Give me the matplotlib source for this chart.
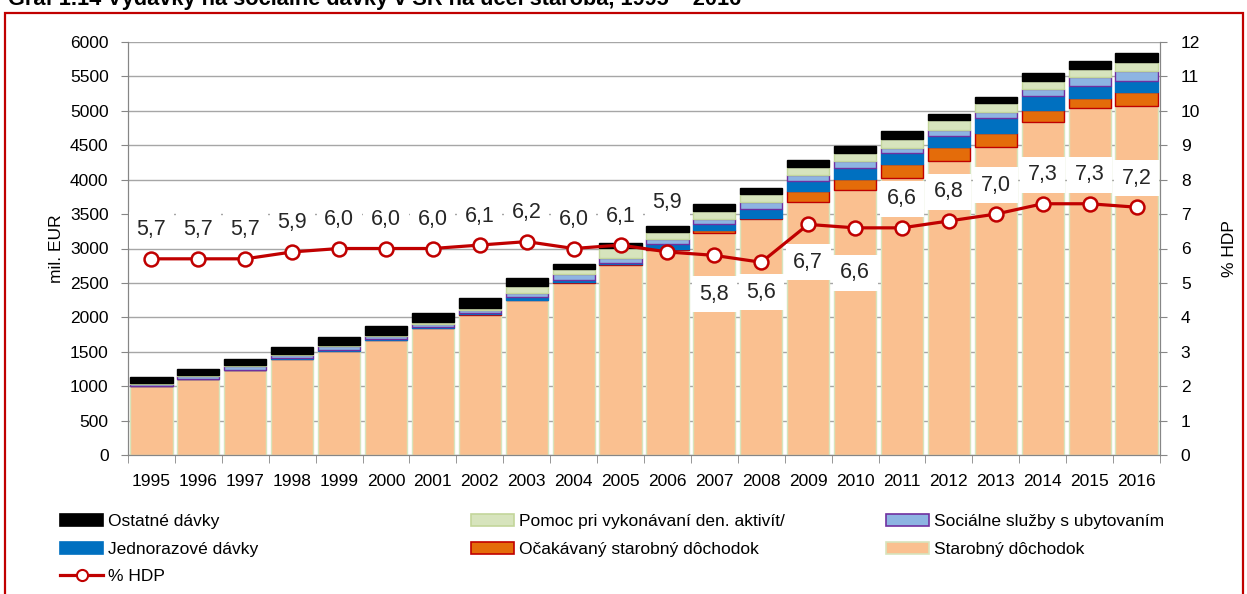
import matplotlib
matplotlib.use("Agg")
import matplotlib.pyplot as plt
from matplotlib.patches import Rectangle, Patch
from matplotlib.lines import Line2D
import numpy as np

plt.rcParams['font.family'] = ['Liberation Sans', 'DejaVu Sans']

years = [str(y) for y in range(1995, 2017)]
starobny = [1000, 1100, 1235, 1400, 1515, 1675, 1850, 2035, 2245, 2495, 2755, 2985,
            3230, 3430, 3680, 3850, 4020, 4275, 4480, 4835, 5037, 5075]
ocakavany = [0, 0, 0, 0, 0, 0, 0, 10, 10, 15, 15, 5,
             35, 20, 160, 155, 205, 205, 195, 177, 145, 203]
jednorazove = [5, 5, 5, 8, 8, 10, 10, 15, 40, 35, 25, 75,
               85, 130, 145, 160, 160, 155, 218, 204, 183, 156]
socialne = [25, 45, 50, 45, 65, 40, 50, 50, 58, 80, 65, 67,
            80, 95, 85, 110, 75, 87, 96, 102, 122, 145]
pomoc = [15, 10, 15, 15, 15, 25, 25, 25, 102, 75, 145, 110,
         110, 110, 110, 110, 135, 145, 122, 120, 121, 126]
ostatne = [85, 92, 90, 100, 115, 130, 135, 140, 116, 75, 70, 88,
           100, 90, 105, 110, 105, 87, 87, 116, 116, 131]
hdp = [5.7, 5.7, 5.7, 5.9, 6.0, 6.0, 6.0, 6.1, 6.2, 6.0, 6.1, 5.9,
       5.8, 5.6, 6.7, 6.6, 6.6, 6.8, 7.0, 7.3, 7.3, 7.2]

series_names = ["Starobný dôchodok", "Očakávaný starobný dôchodok", "Jednorazové dávky",
                "Sociálne služby s ubytovaním", "Pomoc pri vykonávaní den. aktivít/", "Ostatné dávky"]
series_vals = [starobny, ocakavany, jednorazove, socialne, pomoc, ostatne]
face_colors = ["#FAC090", "#E46C0A", "#0070C0", "#8DB4E2", "#D7E4BD", "#000000"]
edge_colors = ["#D7E4BD", "#C00000", "#0070C0", "#7030A0", "#C3D69B", "#000000"]

# label offsets in pixels (positive = above point)
label_offsets_px = [29, 29, 29, 29, 29, 29, 29, 29, 29, 29, 29, 49,
                    -39, -30, -38, -45, 29, 29, 29, 29, 29, 29]

W, H = 1247, 594
fig = plt.figure(figsize=(W / 100, H / 100), dpi=100)
ax = fig.add_axes([128 / W, 1 - 455 / H, (1160 - 128) / W, (455 - 42) / H])

x = np.arange(len(years))
bottom = np.zeros(len(years))
for name, vals, fc, ec in zip(series_names, series_vals, face_colors, edge_colors):
    v = np.array(vals, dtype=float)
    ax.bar(x, v, bottom=bottom, width=0.9, color=fc, edgecolor=ec, linewidth=1.0,
           label=name, zorder=2)
    bottom += v

ax.set_xlim(-0.5, len(years) - 0.5)
ax.set_ylim(0, 6000)
ax.set_yticks(np.arange(0, 6001, 500))
ax.yaxis.grid(True, color="#A6A6A6", linewidth=1.0, zorder=0)
ax.set_axisbelow(True)
ax.set_xticks(x)
ax.set_xticklabels(years)
ax.set_xticks(np.arange(-0.5, len(years), 1), minor=True)
ax.tick_params(axis='x', which='major', length=0, pad=14, labelsize=12.5)
ax.tick_params(axis='x', which='minor', length=6, color="#868686", direction='out')
ax.tick_params(axis='y', length=5, color="#868686", direction='out', pad=9, labelsize=12.5)
for s in ax.spines.values():
    s.set_color("#868686")
ax.spines['top'].set_visible(False)
ax.set_ylabel("mil. EUR", fontsize=12.5, labelpad=4)

ax2 = ax.twinx()
ax2.set_ylim(0, 12)
ax2.set_yticks(np.arange(0, 13, 1))
ax2.tick_params(axis='y', length=5, color="#868686", direction='out', pad=10, labelsize=12.5)
for s in ax2.spines.values():
    s.set_color("#868686")
ax2.spines['top'].set_visible(False)
ax2.set_ylabel("% HDP", fontsize=12.5, labelpad=16)
ax2.plot(x, hdp, color="#C00000", linewidth=2.3, marker='o', markersize=10,
         markerfacecolor='white', markeredgecolor="#C00000", markeredgewidth=1.8, zorder=5)

for xi, v, off in zip(x, hdp, label_offsets_px):
    ax2.annotate(f"{v:.1f}".replace('.', ','), xy=(xi, v), xytext=(0, off * 0.72),
                 textcoords='offset points', ha='center', va='center', fontsize=15.5,
                 color="#262626", zorder=6,
                 bbox=dict(boxstyle='square,pad=0.35', facecolor='white', edgecolor='none'))

# legends (three columns)
handles = {}
for name, fc, ec in zip(series_names, face_colors, edge_colors):
    handles[name] = Patch(facecolor=fc, edgecolor=ec, linewidth=1.2)
hdp_handle = Line2D([0], [0], color="#C00000", linewidth=2.3, marker='o', markersize=8,
                    markerfacecolor='white', markeredgecolor="#C00000", markeredgewidth=1.5)

cols = [
    (60, [(handles["Ostatné dávky"], "Ostatné dávky"),
          (handles["Jednorazové dávky"], "Jednorazové dávky"),
          (hdp_handle, "% HDP")]),
    (471, [(handles["Pomoc pri vykonávaní den. aktivít/"], "Pomoc pri vykonávaní den. aktivít/"),
           (handles["Očakávaný starobný dôchodok"], "Očakávaný starobný dôchodok")]),
    (886, [(handles["Sociálne služby s ubytovaním"], "Sociálne služby s ubytovaním"),
           (handles["Starobný dôchodok"], "Starobný dôchodok")]),
]
for xpx, items in cols:
    leg = fig.legend([h for h, _ in items], [l for _, l in items], loc='upper left',
                     bbox_to_anchor=(xpx / W, 1 - 514 / H), frameon=False, fontsize=12.5,
                     handlelength=2.5, handleheight=0.7, handletextpad=0.25,
                     labelspacing=0.72, borderpad=0, borderaxespad=0)

# title (partially cut at top)
fig.text(8 / W, 1 - 5 / H, "Graf 1.14 Výdavky na sociálne dávky v SR na účel staroba, 1995 – 2016",
         fontsize=15.7, fontweight='bold', va='baseline', ha='left')

# red frame
fig.patches.append(Rectangle((5 / W, -0.02), (1243 - 5) / W, 1.02 - 13 / H,
                             transform=fig.transFigure, fill=False, edgecolor="#C00000",
                             linewidth=1.6))

fig.savefig("out.png", dpi=100)
